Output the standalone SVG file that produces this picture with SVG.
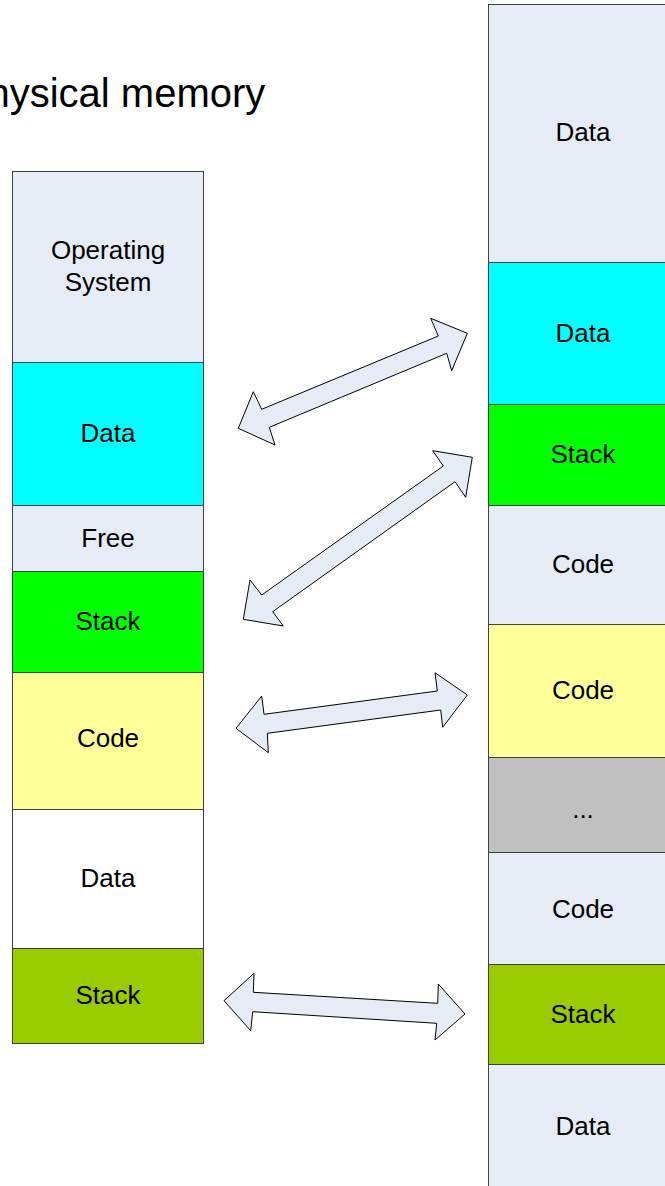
<svg xmlns="http://www.w3.org/2000/svg" width="665" height="1186" viewBox="0 0 665 1186">
<style>
.c{stroke:#404040;stroke-width:1}
.t{font-family:"Liberation Sans",Arial,sans-serif;font-size:26px;fill:#000;text-anchor:middle}
.g{fill:#e6ecf6}.cy{fill:#00ffff}.gr{fill:#00ff00}.y{fill:#ffff99}.w{fill:#ffffff}.yg{fill:#99cc00}.gy{fill:#c0c0c0}
.a{fill:#e6ecf6;stroke:#000;stroke-width:1;stroke-linejoin:miter}
</style>
<rect width="665" height="1186" fill="#fff"/>
<text x="113" y="107" style="font-family:'Liberation Sans',Arial,sans-serif;font-size:40px;fill:#000;text-anchor:middle">Physical memory</text>
<g id="left-memory">
<g id="l-os"><rect class="c g" x="12.5" y="171.5" width="191" height="191"/><text class="t" x="108" y="259">Operating</text><text class="t" x="108" y="291">System</text></g>
<g id="l-data1"><rect class="c cy" x="12.5" y="362.5" width="191" height="143"/><text class="t" x="108" y="442">Data</text></g>
<g id="l-free"><rect class="c g" x="12.5" y="505.5" width="191" height="66"/><text class="t" x="108" y="547">Free</text></g>
<g id="l-stack1"><rect class="c gr" x="12.5" y="571.5" width="191" height="101"/><text class="t" x="108" y="630">Stack</text></g>
<g id="l-code"><rect class="c y" x="12.5" y="672.5" width="191" height="137"/><text class="t" x="108" y="747">Code</text></g>
<g id="l-data2"><rect class="c w" x="12.5" y="809.5" width="191" height="139"/><text class="t" x="108" y="887">Data</text></g>
<g id="l-stack2"><rect class="c yg" x="12.5" y="948.5" width="191" height="95"/><text class="t" x="108" y="1004">Stack</text></g>
</g>
<g id="right-memory">
<g id="r-data1"><rect class="c g" x="488.5" y="4.5" width="200" height="258"/><text class="t" x="583" y="141">Data</text></g>
<g id="r-data2"><rect class="c cy" x="488.5" y="262.5" width="200" height="142"/><text class="t" x="583" y="342">Data</text></g>
<g id="r-stack1"><rect class="c gr" x="488.5" y="404.5" width="200" height="101"/><text class="t" x="583" y="463">Stack</text></g>
<g id="r-code1"><rect class="c g" x="488.5" y="505.5" width="200" height="119"/><text class="t" x="583" y="573">Code</text></g>
<g id="r-code2"><rect class="c y" x="488.5" y="624.5" width="200" height="133"/><text class="t" x="583" y="699">Code</text></g>
<g id="r-dots"><rect class="c gy" x="488.5" y="757.5" width="200" height="95"/><text class="t" x="583" y="818">...</text></g>
<g id="r-code3"><rect class="c g" x="488.5" y="852.5" width="200" height="112"/><text class="t" x="583" y="918">Code</text></g>
<g id="r-stack2"><rect class="c yg" x="488.5" y="964.5" width="200" height="100"/><text class="t" x="583" y="1023">Stack</text></g>
<g id="r-data3"><rect class="c g" x="488.5" y="1064.5" width="200" height="140"/><text class="t" x="583" y="1135">Data</text></g>
</g>
<g id="connectors">
<polygon class="a" points="238.3,428.3 253.3,391.7 261.7,409.3 438.3,336 430.7,318.3 467.3,333.3 451.7,370.7 446.7,353.3 269.3,427.3 275,445"/>
<polygon class="a" points="243.3,619.3 250,580 261.7,595 443.3,466 432.7,450.7 472.3,457.3 465.7,497.3 455,481.7 272.7,611.7 283.3,626"/>
<polygon class="a" points="236,728.3 261.7,696 264,714.3 437.3,691 435,672.7 467.3,695 442.7,727.3 440.7,710 267.3,733.3 268.3,752.7"/>
<polygon class="a" points="224,1000.7 254,973.3 253.3,992.3 437.7,1003.3 438.3,984 465,1014 435,1040 436.7,1023.3 252.7,1011.7 250.7,1030.7"/>
</g>
</svg>
